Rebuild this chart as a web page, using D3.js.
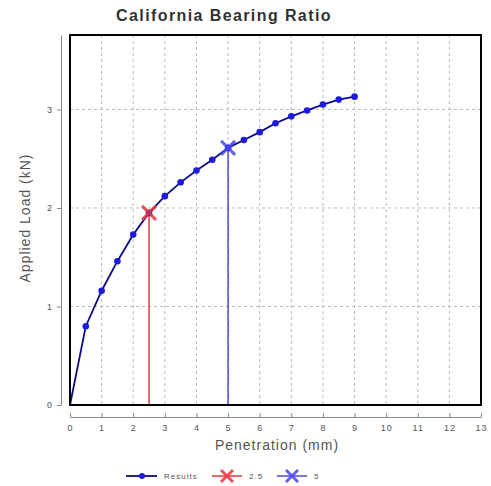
<!DOCTYPE html>
<html>
<head>
<meta charset="utf-8">
<script src="https://cdn.jsdelivr.net/npm/d3@7"></script>
<style>
body { margin: 0; background: #fff; }
text { font-family: "Liberation Sans", Arial, sans-serif; }
</style>
</head>
<body>
<svg id="chart" width="491" height="486"></svg>
<script>
// penetration (mm) and applied load (kN)
var penetration = [0, 0.5, 1, 1.5, 2, 2.5, 3, 3.5, 4, 4.5, 5, 5.5, 6, 6.5, 7, 7.5, 8, 8.5, 9];
var load = [0, 0.80, 1.16, 1.46, 1.73, 1.95, 2.12, 2.26, 2.38, 2.49, 2.61, 2.69, 2.77, 2.86, 2.93, 2.99, 3.05, 3.10, 3.13];
var xTicks = [0, 1, 2, 3, 4, 5, 6, 7, 8, 9, 10, 11, 12, 13];
var yTicks = [0, 1, 2, 3];
var markPen = [2.5, 5];
var markLoad = [1.95, 2.61];
var markColor = ["#e8343c", "#4a4ae8"];
var legendLabels = ["Results", "2.5", "5"];

var data = penetration.map(function(p, i) { return { p: p, l: load[i] }; });

// plot box edges
var boxL = 70, boxR = 481, boxT = 35, boxB = 405;

var x = d3.scaleLinear().domain([0, 13]).range([boxL, boxR]);
var y = d3.scaleLinear().domain([0, d3.max(load) * 1.2]).range([boxB, boxT]);

var svg = d3.select("#chart");

// title
svg.append("text")
	.attr("x", 224).attr("y", 21)
	.attr("text-anchor", "middle")
	.attr("font-size", 16).attr("font-weight", "bold")
	.attr("fill", "#333")
	.style("letter-spacing", "1.4px")
	.text("California Bearing Ratio");

// grid
var grid = svg.append("g").attr("stroke", "#bbb").attr("stroke-dasharray", "3,3").attr("stroke-width", 1);
grid.selectAll(".vg").data(xTicks.slice(1, -1)).enter().append("line")
	.attr("x1", function(d) { return x(d); }).attr("x2", function(d) { return x(d); })
	.attr("y1", boxT).attr("y2", boxB);
grid.selectAll(".hg").data(yTicks.slice(1)).enter().append("line")
	.attr("x1", boxL).attr("x2", boxR)
	.attr("y1", function(d) { return y(d); }).attr("y2", function(d) { return y(d); });

// vertical marker lines
svg.selectAll(".mline").data(markPen).enter().append("line")
	.attr("x1", function(d) { return x(d); }).attr("x2", function(d) { return x(d); })
	.attr("y1", y(0)).attr("y2", function(d, i) { return y(markLoad[i]); })
	.attr("stroke", function(d, i) { return markColor[i]; })
	.attr("stroke-width", 1.5);

// results line
svg.append("path").datum(data)
	.attr("fill", "none").attr("stroke", "#0a0a8a").attr("stroke-width", 1.8)
	.attr("d", d3.line().x(function(d) { return x(d.p); }).y(function(d) { return y(d.l); }));

svg.selectAll(".dot").data(data.slice(1)).enter().append("circle")
	.attr("cx", function(d) { return x(d.p); })
	.attr("cy", function(d) { return y(d.l); })
	.attr("r", 3.3).attr("fill", "#1a1ae0");

// X markers
function cross(g, cx, cy, s, color) {
	g.append("path")
		.attr("d", "M" + (cx - s) + "," + (cy - s) + "L" + (cx + s) + "," + (cy + s) +
			"M" + (cx - s) + "," + (cy + s) + "L" + (cx + s) + "," + (cy - s))
		.attr("stroke", color).attr("stroke-width", 3).attr("opacity", 0.85);
}
markPen.forEach(function(p, i) { cross(svg, x(p), y(markLoad[i]), 7, markColor[i]); });

// plot box
svg.append("rect")
	.attr("x", boxL).attr("y", boxT)
	.attr("width", boxR - boxL).attr("height", boxB - boxT)
	.attr("fill", "none").attr("stroke", "#000").attr("stroke-width", 2);

// y axis (offset)
var yAxis = svg.append("g")
	.attr("transform", "translate(61,0)")
	.call(d3.axisLeft(y).tickValues(yTicks).tickFormat(d3.format("d")).tickSize(4).tickSizeOuter(0));
yAxis.select(".domain").attr("stroke", "#888");
yAxis.selectAll(".tick line").attr("stroke", "#888");
yAxis.selectAll("text").attr("font-size", 9).attr("fill", "#555").attr("x", -9);

// x axis (offset)
var xAxis = svg.append("g")
	.attr("transform", "translate(0,417)")
	.call(d3.axisBottom(x).tickValues(xTicks).tickSize(-4).tickSizeOuter(0));
xAxis.select(".domain").attr("stroke", "#888");
xAxis.selectAll(".tick line").attr("stroke", "#888");
xAxis.selectAll("text").attr("font-size", 9).attr("fill", "#555").attr("y", 8)
	.style("letter-spacing", "1px");

// axis titles
svg.append("text")
	.attr("transform", "translate(30,218) rotate(-90)")
	.attr("text-anchor", "middle").attr("font-size", 14).attr("fill", "#555")
	.style("letter-spacing", "1px")
	.text("Applied Load (kN)");
svg.append("text")
	.attr("x", 277).attr("y", 450)
	.attr("text-anchor", "middle").attr("font-size", 14).attr("fill", "#555")
	.style("letter-spacing", "1px")
	.text("Penetration (mm)");

// legend
var lg = svg.append("g").attr("transform", "translate(0,476)");
lg.append("line").attr("x1", 126).attr("x2", 157).attr("stroke", "#0a0a8a").attr("stroke-width", 1.8);
lg.append("circle").attr("cx", 142).attr("cy", 0).attr("r", 3).attr("fill", "#1a1ae0");
var lx = [212, 277];
markColor.forEach(function(c, i) {
	lg.append("line").attr("x1", lx[i]).attr("x2", lx[i] + 30).attr("stroke", c).attr("stroke-width", 1.5);
	cross(lg, lx[i] + 15, 0, 6, c);
});
var tx = [164, 249, 314];
legendLabels.forEach(function(t, i) {
	lg.append("text").attr("x", tx[i]).attr("y", 3).attr("font-size", 8).attr("fill", "#555")
		.style("letter-spacing", "1px").text(t);
});
</script>
</body>
</html>
